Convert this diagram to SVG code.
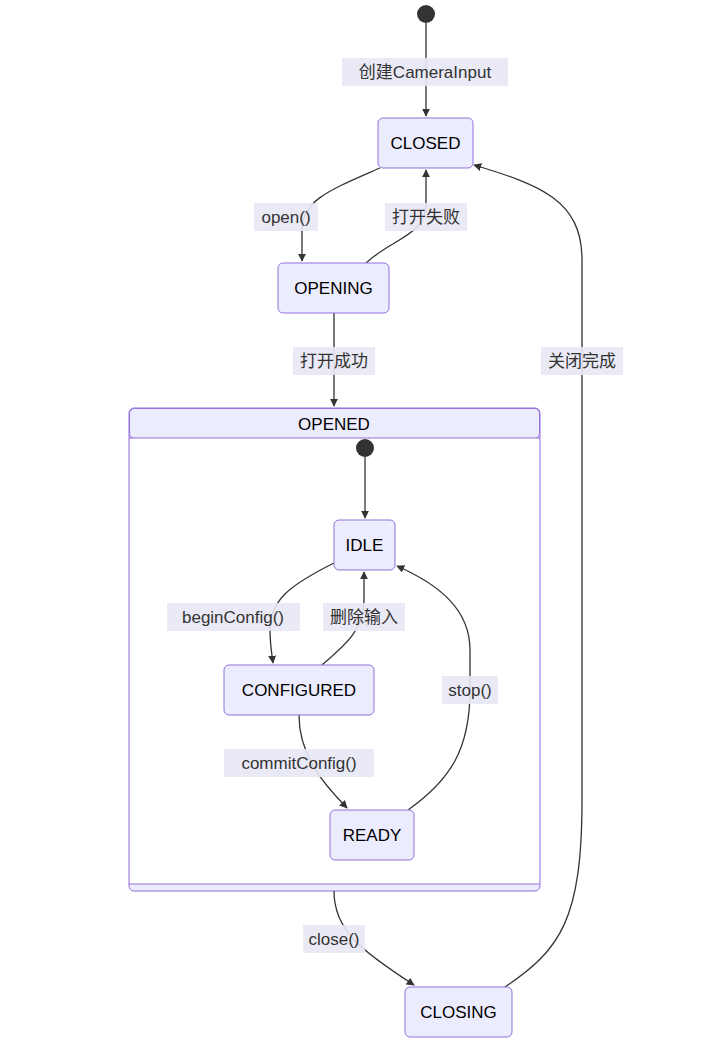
<svg xmlns="http://www.w3.org/2000/svg" width="726" height="1045" viewBox="0 0 726 1045">
<style>
.n{fill:#ECECFF;stroke:#9370DB;stroke-width:1}
.t{font-family:"Liberation Sans","Noto Sans CJK SC",sans-serif;font-size:17px;fill:#000;text-anchor:middle;dominant-baseline:central}
.lb{fill:#E8E8F5;opacity:0.9}
.lt{font-family:"Liberation Sans","Noto Sans CJK SC",sans-serif;font-size:17px;fill:#333;text-anchor:middle;dominant-baseline:central}
.e{fill:none;stroke:#333;stroke-width:1.3}
</style>
<defs><marker id="a" viewBox="0 0 10 10" refX="9" refY="5" markerWidth="8" markerHeight="8" orient="auto-start-reverse" markerUnits="userSpaceOnUse"><path d="M0,0L10,5L0,10z" fill="#333"/></marker></defs>
<rect width="726" height="1045" fill="#fff"/>
<g id="OPENED"><rect class="n" x="129" y="408" width="411" height="483" rx="5"/><rect x="129.5" y="408.5" width="410" height="30" rx="5" fill="#ECECFF" stroke="#9370DB"/><rect x="130" y="438" width="409" height="446" fill="#fff"/><line x1="129" y1="438" x2="540" y2="438" stroke="#9370DB"/><line x1="129" y1="884" x2="540" y2="884" stroke="#9370DB"/><text class="t" x="334" y="424">OPENED</text></g>
<g id="connectors">
<path class="e" d="M426,23L426,116" marker-end="url(#a)"/>
<path class="e" d="M380,168C330,190 302,200 302,230L302,261" marker-end="url(#a)"/>
<path class="e" d="M366,263C390,240 426,235 426,205L426,170" marker-end="url(#a)"/>
<path class="e" d="M334,313L334,406" marker-end="url(#a)"/>
<path class="e" d="M505,987C560,950 582,920 582,800L582,260C582,200 540,185 474,165" marker-end="url(#a)"/>
<path class="e" d="M365,457L365,518" marker-end="url(#a)"/>
<path class="e" d="M334,563C290,585 270,600 270,630C270,645 272,655 273,663" marker-end="url(#a)"/>
<path class="e" d="M322,665C345,645 364,630 364,600L364,572" marker-end="url(#a)"/>
<path class="e" d="M299,715C299,760 330,790 347,808" marker-end="url(#a)"/>
<path class="e" d="M408,810C450,780 470,750 470,690L470,650C470,610 440,585 397,566" marker-end="url(#a)"/>
<path class="e" d="M334,891C334,930 360,950 414,985" marker-end="url(#a)"/>
</g>
<g id="labels">
<rect class="lb" x="342" y="58" width="166" height="28"/><text class="lt" x="425" y="72">创建CameraInput</text>
<rect class="lb" x="254" y="203" width="64" height="28"/><text class="lt" x="286" y="217">open()</text>
<rect class="lb" x="385" y="203" width="82" height="28"/><text class="lt" x="426" y="217">打开失败</text>
<rect class="lb" x="293" y="347" width="82" height="28"/><text class="lt" x="334" y="361">打开成功</text>
<rect class="lb" x="541" y="347" width="82" height="28"/><text class="lt" x="582" y="361">关闭完成</text>
<rect class="lb" x="167" y="603" width="133" height="28"/><text class="lt" x="233" y="617">beginConfig()</text>
<rect class="lb" x="323" y="603" width="82" height="28"/><text class="lt" x="364" y="617">删除输入</text>
<rect class="lb" x="442" y="676" width="56" height="28"/><text class="lt" x="470" y="690">stop()</text>
<rect class="lb" x="224" y="749" width="150" height="28"/><text class="lt" x="299" y="763">commitConfig()</text>
<rect class="lb" x="303" y="925" width="62" height="28"/><text class="lt" x="334" y="939">close()</text>
</g>
<g id="start"><circle cx="426" cy="14" r="9" fill="#333"/></g>
<g id="CLOSED"><rect class="n" x="378" y="118" width="95" height="50" rx="5"/><text class="t" x="425.5" y="143">CLOSED</text></g>
<g id="OPENING"><rect class="n" x="278" y="263" width="111" height="50" rx="5"/><text class="t" x="333.5" y="288">OPENING</text></g>
<g id="innerStart"><circle cx="365" cy="448" r="9" fill="#333"/></g>
<g id="IDLE"><rect class="n" x="334" y="520" width="61" height="50" rx="5"/><text class="t" x="364.5" y="545">IDLE</text></g>
<g id="CONFIGURED"><rect class="n" x="224" y="665" width="150" height="50" rx="5"/><text class="t" x="299" y="690">CONFIGURED</text></g>
<g id="READY"><rect class="n" x="330" y="810" width="84" height="50" rx="5"/><text class="t" x="372" y="835">READY</text></g>
<g id="CLOSING"><rect class="n" x="405" y="987" width="107" height="50" rx="5"/><text class="t" x="458.5" y="1012">CLOSING</text></g>
</svg>
